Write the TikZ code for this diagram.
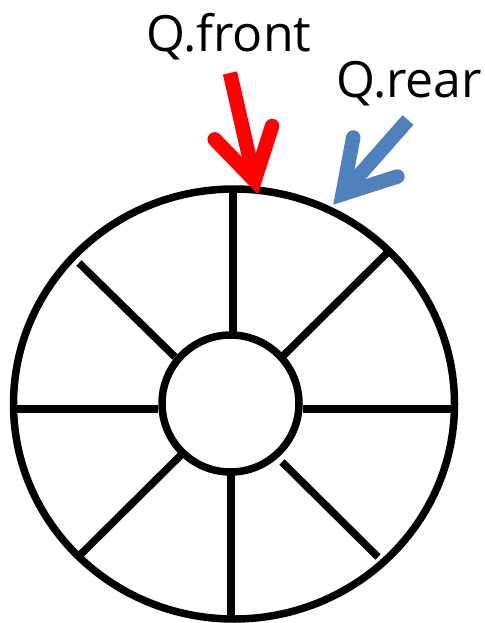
\documentclass[tikz,border=0pt]{standalone}
\usepackage{fontspec}
\setmainfont{Open Sans}
\definecolor{qblue}{HTML}{4F81BD}
\begin{document}
\begin{tikzpicture}[x=1pt,y=-1pt,
  wheel/.style={line width=7.5pt, black},
  shaft/.style={line width=14.5pt, line cap=butt},
  headline/.style={line width=14.5pt, line cap=round, line join=miter},
  lbl/.style={inner sep=0pt, anchor=base west, font=\fontsize{50}{60}\selectfont}]
\useasboundingbox (0,0) rectangle (484,623);
% wheel
\draw[wheel] (234,404) ellipse [x radius=220.5, y radius=215];
\draw[wheel] (230.5,403.5) circle [radius=68.5];
\coordinate (t1) at (233,190); \coordinate (t2) at (233,336);
\coordinate (b1) at (231,471); \coordinate (b2) at (231,619);
\coordinate (l1) at (13,409);  \coordinate (l2) at (158,409);
\coordinate (r1) at (303,409); \coordinate (r2) at (454,409);
\coordinate (tl1) at (79,263); \coordinate (tl2) at (175,357);
\coordinate (tr1) at (388,252); \coordinate (tr2) at (283,356);
\coordinate (bl1) at (181,455); \coordinate (bl2) at (79,556);
\coordinate (br1) at (282,462); \coordinate (br2) at (378,557);
\foreach \a/\b in {t1/t2,b1/b2,l1/l2,r1/r2,tl1/tl2,tr1/tr2,bl1/bl2,br1/br2}
  \draw[wheel] (\a) -- (\b);
% labels
\node[lbl] (front) at (146,52) {Q.front};
\node[lbl] (rear) at (336,98) {Q.rear};
% red arrow
\coordinate (rtail) at (230,73);
\coordinate (rv) at (254.6,180.5);
\coordinate (rb1) at (214.7,139.4);
\coordinate (rb2) at (272.1,126.0);
\draw[shaft, red] (rtail) -- (rv);
\draw[headline, red] (rb1) -- (rv) -- (rb2);
% blue arrow
\coordinate (btail) at (408,120);
\coordinate (bv) at (342.6,194.1);
\coordinate (bb1) at (353.2,137.5);
\coordinate (bb2) at (397.4,176.5);
\draw[shaft, qblue] (btail) -- (bv);
\draw[headline, qblue] (bb1) -- (bv) -- (bb2);
\end{tikzpicture}
\end{document}
